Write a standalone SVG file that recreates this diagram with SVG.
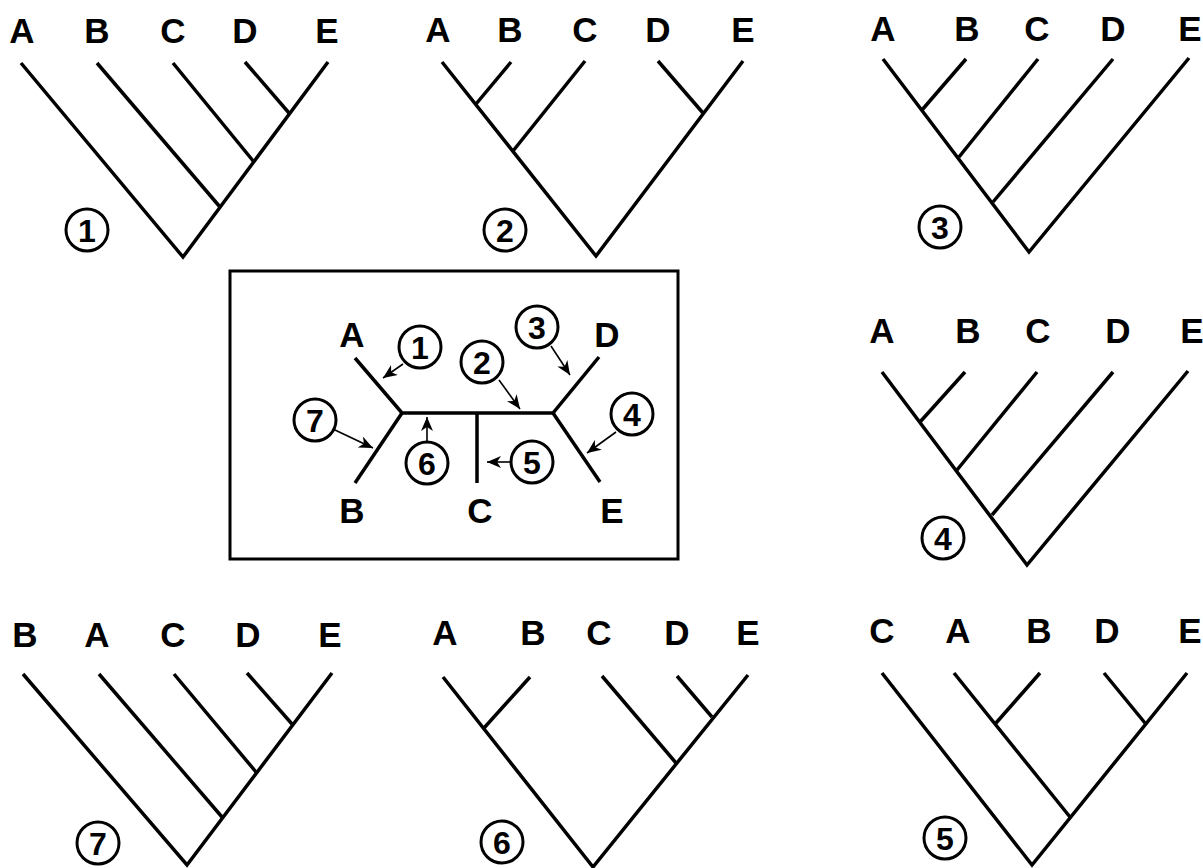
<svg xmlns="http://www.w3.org/2000/svg" width="1203" height="868" viewBox="0 0 1203 868">
<defs>
<style>
.br{stroke:#000;stroke-width:3.5;fill:none;stroke-linecap:butt}
.lb{font-family:"Liberation Sans",Arial,sans-serif;font-weight:bold;font-size:35px;text-anchor:middle;fill:#000}
.nc{fill:#fff;stroke:#000;stroke-width:3}
.nt{font-family:"Liberation Sans",Arial,sans-serif;font-weight:bold;font-size:32px;text-anchor:middle;fill:#000}
.ar{stroke:#000;stroke-width:1.6;fill:none}
.bx{fill:none;stroke:#000;stroke-width:3}
</style>
<marker id="ah" markerWidth="15" markerHeight="12" refX="14" refY="6" orient="auto" markerUnits="userSpaceOnUse">
<path d="M0,0 L14,6 L0,12 L4,6 Z" fill="#000"/>
</marker>
</defs>
<rect width="1203" height="868" fill="#fff"/>

<g id="tree1">
<text class="lb" x="22" y="43">A</text><text class="lb" x="97" y="43">B</text><text class="lb" x="173" y="43">C</text><text class="lb" x="245" y="43">D</text><text class="lb" x="327" y="43">E</text>
<polyline class="br" points="21,63 183,257 328,62"/>
<line class="br" x1="97" y1="63" x2="220" y2="207"/>
<line class="br" x1="173" y1="63" x2="254" y2="162"/>
<line class="br" x1="245" y1="62" x2="289" y2="113"/>
<circle class="nc" cx="87" cy="230" r="21"/><text class="nt" x="87" y="241.5">1</text>
</g>

<g id="tree2">
<text class="lb" x="438" y="42">A</text><text class="lb" x="510" y="42">B</text><text class="lb" x="585" y="42">C</text><text class="lb" x="658" y="42">D</text><text class="lb" x="743" y="42">E</text>
<polyline class="br" points="442,62 596,256 743,61"/>
<line class="br" x1="511" y1="62" x2="476" y2="104"/>
<line class="br" x1="585" y1="61" x2="513" y2="151"/>
<line class="br" x1="658" y1="61" x2="703" y2="113"/>
<circle class="nc" cx="505" cy="230" r="21"/><text class="nt" x="505" y="241.5">2</text>
</g>

<g id="tree3">
<text class="lb" x="883" y="41">A</text><text class="lb" x="967" y="41">B</text><text class="lb" x="1037" y="41">C</text><text class="lb" x="1113" y="41">D</text><text class="lb" x="1190" y="41">E</text>
<polyline class="br" points="883,59 1029,252 1189,58"/>
<line class="br" x1="966" y1="59" x2="922" y2="110"/>
<line class="br" x1="1038" y1="59" x2="959" y2="157"/>
<line class="br" x1="1113" y1="59" x2="993" y2="202"/>
<circle class="nc" cx="940" cy="227" r="21"/><text class="nt" x="940" y="238.5">3</text>
</g>

<g id="tree4">
<text class="lb" x="882" y="343">A</text><text class="lb" x="968" y="343">B</text><text class="lb" x="1038" y="343">C</text><text class="lb" x="1118" y="343">D</text><text class="lb" x="1192" y="343">E</text>
<polyline class="br" points="882,372 1027,565 1188,371"/>
<line class="br" x1="965" y1="372" x2="920" y2="422"/>
<line class="br" x1="1037" y1="372" x2="957" y2="470"/>
<line class="br" x1="1113" y1="372" x2="992" y2="515"/>
<circle class="nc" cx="943" cy="538" r="21"/><text class="nt" x="943" y="549.5">4</text>
</g>

<g id="tree7">
<text class="lb" x="25" y="647">B</text><text class="lb" x="97" y="647">A</text><text class="lb" x="173" y="647">C</text><text class="lb" x="248" y="647">D</text><text class="lb" x="330" y="647">E</text>
<polyline class="br" points="23,674 187,865 332,673"/>
<line class="br" x1="99" y1="674" x2="222" y2="817"/>
<line class="br" x1="174" y1="674" x2="256" y2="772"/>
<line class="br" x1="247" y1="673" x2="292" y2="724"/>
<circle class="nc" cx="98" cy="843" r="21"/><text class="nt" x="98" y="854.5">7</text>
</g>

<g id="tree6">
<text class="lb" x="445" y="645">A</text><text class="lb" x="533" y="645">B</text><text class="lb" x="599" y="645">C</text><text class="lb" x="677" y="645">D</text><text class="lb" x="748" y="645">E</text>
<polyline class="br" points="443,677 593,867 748,675"/>
<line class="br" x1="530" y1="677" x2="484" y2="728"/>
<line class="br" x1="602" y1="676" x2="676" y2="763"/>
<line class="br" x1="677" y1="676" x2="712" y2="717"/>
<circle class="nc" cx="502" cy="842" r="21"/><text class="nt" x="502" y="853.5">6</text>
</g>

<g id="tree5">
<text class="lb" x="882" y="643">C</text><text class="lb" x="958" y="643">A</text><text class="lb" x="1039" y="643">B</text><text class="lb" x="1107" y="643">D</text><text class="lb" x="1190" y="643">E</text>
<polyline class="br" points="882,673 1032,865 1187,673"/>
<line class="br" x1="954" y1="673" x2="1070" y2="817"/>
<line class="br" x1="1040" y1="673" x2="996" y2="723"/>
<line class="br" x1="1104" y1="673" x2="1145" y2="723"/>
<circle class="nc" cx="945" cy="838" r="21"/><text class="nt" x="945" y="849.5">5</text>
</g>

<g id="unrooted">
<rect class="bx" x="230" y="271" width="448" height="288"/>
<text class="lb" x="352" y="347">A</text><text class="lb" x="607" y="347">D</text>
<text class="lb" x="352" y="523">B</text><text class="lb" x="480" y="523">C</text><text class="lb" x="612" y="523">E</text>
<polyline class="br" points="355,358 402,413 553,413 599,357"/>
<line class="br" x1="402" y1="413" x2="355" y2="483"/>
<line class="br" x1="553" y1="413" x2="600" y2="482"/>
<line class="br" x1="477" y1="413" x2="477" y2="483"/>
</g>

<g id="labels">
<circle class="nc" cx="420" cy="347" r="21"/><text class="nt" x="420" y="358.5">1</text>
<circle class="nc" cx="482" cy="362" r="21"/><text class="nt" x="482" y="373.5">2</text>
<circle class="nc" cx="537" cy="327" r="21"/><text class="nt" x="537" y="338.5">3</text>
<circle class="nc" cx="632" cy="414" r="21"/><text class="nt" x="632" y="425.5">4</text>
<circle class="nc" cx="532" cy="462" r="21"/><text class="nt" x="532" y="473.5">5</text>
<circle class="nc" cx="427" cy="463" r="21"/><text class="nt" x="427" y="474.5">6</text>
<circle class="nc" cx="315" cy="420" r="21"/><text class="nt" x="315" y="431.5">7</text>
</g>

<g id="connectors">
<line class="ar" x1="403" y1="364" x2="383" y2="378" marker-end="url(#ah)"/>
<line class="ar" x1="499" y1="380" x2="520" y2="409" marker-end="url(#ah)"/>
<line class="ar" x1="551" y1="346" x2="570" y2="375" marker-end="url(#ah)"/>
<line class="ar" x1="616" y1="432" x2="587" y2="453" marker-end="url(#ah)"/>
<line class="ar" x1="510" y1="462" x2="487" y2="462" marker-end="url(#ah)"/>
<line class="ar" x1="427" y1="441" x2="427" y2="417" marker-end="url(#ah)"/>
<line class="ar" x1="335" y1="430" x2="373" y2="448" marker-end="url(#ah)"/>
</g>
</svg>
